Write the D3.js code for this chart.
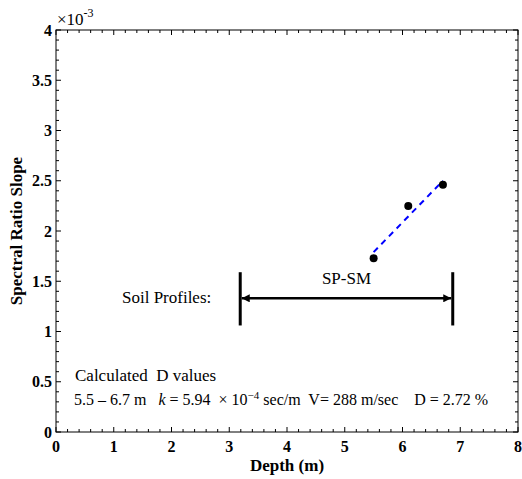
<!DOCTYPE html>
<html><head><meta charset="utf-8">
<script src="https://cdn.jsdelivr.net/npm/d3@7"></script>
<style>body{margin:0;background:#fff}svg{display:block}text{font-family:"Liberation Serif","Times New Roman",serif;white-space:pre}</style>
</head><body><svg id="c" width="522" height="479"></svg>
<script>
const depths = [5.5, 6.1, 6.7];
const slopes = [1.73, 2.25, 2.46];          // ×10^-3
const fitX = [5.5, 6.7];
const fitY = [1.79, 2.50];
const profileX = [3.19, 6.87];
const profileY = [1.06, 1.59];
const profileArrowY = 1.33;
const profileLabel = "SP-SM";
const xTicks = [0,1,2,3,4,5,6,7,8];
const yTicks = [0,0.5,1,1.5,2,2.5,3,3.5,4];
const yTickLabels = ["0","0.5","1","1.5","2","2.5","3","3.5","4"];

const svg = d3.select("#c");
const L = 56, R = 518, T = 30, B = 432;
const x = d3.scaleLinear().domain([0,8]).range([L,R]);
const y = d3.scaleLinear().domain([0,4]).range([B,T]);

const defs = svg.append("defs");
["s","e"].forEach(id=>{
  defs.append("marker").attr("id","arr"+id).attr("viewBox","0 0 10 10")
    .attr("refX", id==="e"?10:0).attr("refY",5).attr("markerWidth",9).attr("markerHeight",8)
    .attr("markerUnits","userSpaceOnUse").attr("orient","auto")
    .append("path").attr("d", id==="e"?"M0,0L10,5L0,10z":"M10,0L0,5L10,10z").attr("fill","#000");
});

// box
svg.append("rect").attr("x",L).attr("y",T).attr("width",R-L).attr("height",B-T)
  .attr("fill","none").attr("stroke","#000").attr("stroke-width",1);

// minor ticks
const xMinor = d3.range(0,8.0001,0.2);
const yMinor = d3.range(0,4.0001,0.1);
const g = svg.append("g").attr("stroke","#000").attr("stroke-width",1);
xMinor.forEach(v=>{
  const major = Math.abs(v-Math.round(v))<1e-6; const len = major?5:3;
  g.append("line").attr("x1",x(v)).attr("x2",x(v)).attr("y1",B).attr("y2",B-len);
  g.append("line").attr("x1",x(v)).attr("x2",x(v)).attr("y1",T).attr("y2",T+len);
});
yMinor.forEach(v=>{
  const major = Math.abs(v*2-Math.round(v*2))<1e-6; const len = major?5:3;
  g.append("line").attr("y1",y(v)).attr("y2",y(v)).attr("x1",L).attr("x2",L+len);
  g.append("line").attr("y1",y(v)).attr("y2",y(v)).attr("x1",R).attr("x2",R-len);
});

// tick labels
svg.append("g").selectAll("text").data(xTicks).join("text")
  .attr("x",d=>x(d)).attr("y",B+20).attr("text-anchor","middle")
  .attr("font-size",16).attr("font-weight","bold").text(d=>d);
svg.append("g").selectAll("text").data(yTicks).join("text")
  .attr("x",L-4).attr("y",d=>y(d)+5.5).attr("text-anchor","end")
  .attr("font-size",16).attr("font-weight","bold").text((d,i)=>yTickLabels[i]);

// exponent
const ex = svg.append("text").attr("x",L+1).attr("y",T-5).attr("font-size",17);
ex.append("tspan").text("×10");
ex.append("tspan").attr("dy",-8).attr("font-size",12).text("-3");

// axis titles
svg.append("text").attr("x",(L+R)/2).attr("y",471).attr("text-anchor","middle")
  .attr("font-size",17).attr("font-weight","bold").text("Depth (m)");
svg.append("text").attr("transform",`translate(22,${(T+B)/2}) rotate(-90)`).attr("text-anchor","middle")
  .attr("font-size",17).attr("font-weight","bold").text("Spectral Ratio Slope");

// fit line
svg.append("line").attr("x1",x(fitX[0])).attr("y1",y(fitY[0])).attr("x2",x(fitX[1])).attr("y2",y(fitY[1]))
  .attr("stroke","#0000ff").attr("stroke-width",2).attr("stroke-dasharray","6,5");

// points
svg.append("g").selectAll("circle").data(depths).join("circle")
  .attr("cx",d=>x(d)).attr("cy",(d,i)=>y(slopes[i])).attr("r",4).attr("fill","#000");

// soil profile
profileX.forEach(v=>{
  svg.append("line").attr("x1",x(v)).attr("x2",x(v)).attr("y1",y(profileY[0])).attr("y2",y(profileY[1]))
    .attr("stroke","#000").attr("stroke-width",3);
});
svg.append("line").attr("x1",x(profileX[0])+1.5).attr("x2",x(profileX[1])-1.5)
  .attr("y1",y(profileArrowY)).attr("y2",y(profileArrowY)).attr("stroke","#000").attr("stroke-width",2.5)
  .attr("marker-start","url(#arrs)").attr("marker-end","url(#arre)");
svg.append("text").attr("x",(x(profileX[0])+x(profileX[1]))/2).attr("y",y(profileArrowY)-14)
  .attr("text-anchor","middle").attr("font-size",17).text(profileLabel);
svg.append("text").attr("x",122).attr("y",y(profileArrowY)+5).attr("font-size",17).text("Soil Profiles:");

// annotation
svg.append("text").attr("x",75).attr("y",381).attr("font-size",17).text("Calculated  D values");
const t2 = svg.append("text").attr("x",74).attr("y",405).attr("font-size",16);
t2.append("tspan").text("5.5 – 6.7 m   ");
t2.append("tspan").attr("font-style","italic").text("k");
t2.append("tspan").text(" = 5.94  × 10");
t2.append("tspan").attr("dy",-6).attr("font-size",11).text("−4");
t2.append("tspan").attr("dy",6).text(" sec/m  V= 288 m/sec    D = 2.72 %");
</script></body></html>
